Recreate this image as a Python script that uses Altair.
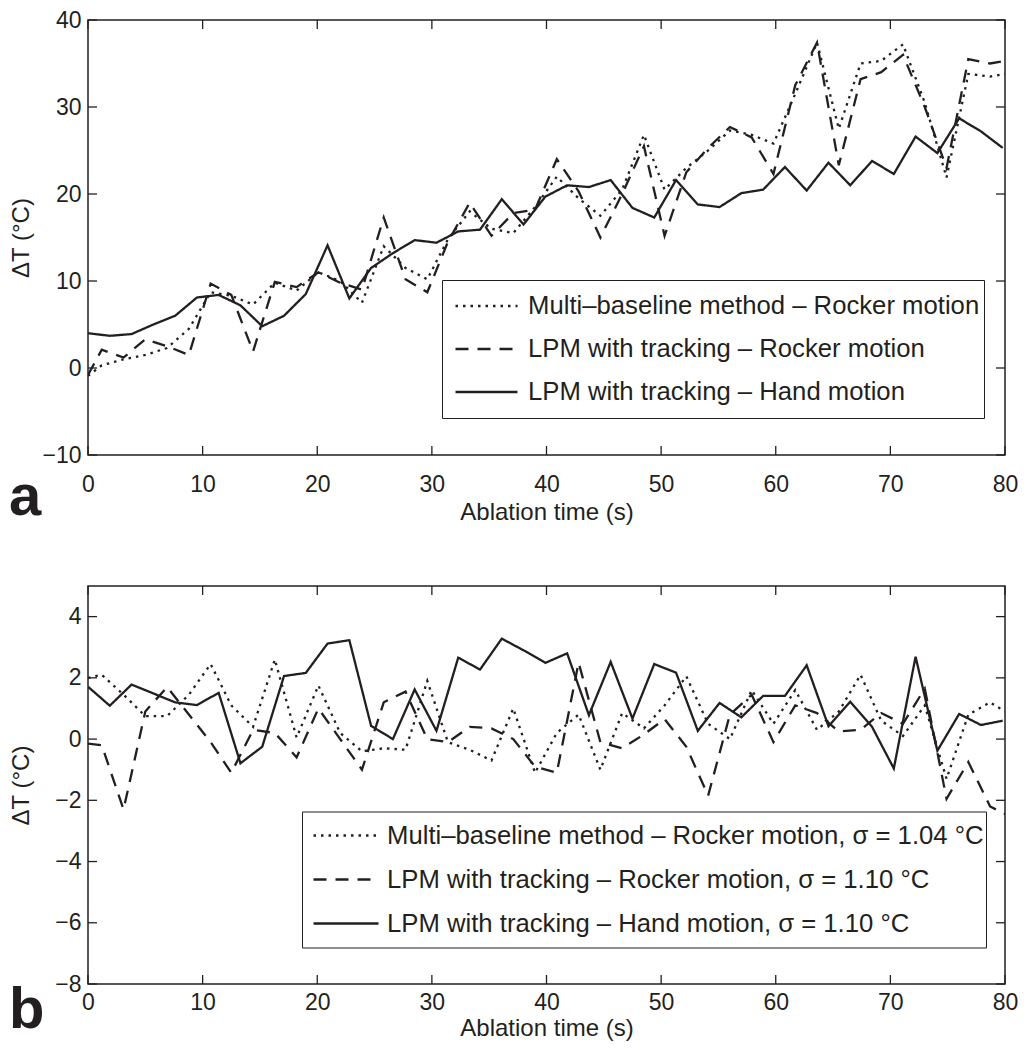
import altair as alt
import pandas as pd

FONT = "Liberation Sans"
INK = "#231f20"

x_ticks = [0, 10, 20, 30, 40, 50, 60, 70, 80]
ya_ticks = [-10, 0, 10, 20, 30, 40]
yb_ticks = [-8, -6, -4, -2, 0, 2, 4]

hand_t = [0, 1.9, 3.8, 5.7, 7.6, 9.5, 11.4, 13.3, 15.2, 17.1, 19.0, 20.9, 22.8, 24.7,
          26.6, 28.5, 30.4, 32.3, 34.2, 36.1, 38.0, 39.9, 41.8, 43.7, 45.6, 47.5, 49.4,
          51.3, 53.2, 55.1, 57.0, 58.9, 60.8, 62.7, 64.6, 66.5, 68.4, 70.3, 72.2, 74.1,
          76.0, 77.9, 79.8]
rocker_t = [0, 1.2, 3.1, 5.0, 6.9, 8.8, 10.7, 12.5, 14.4, 16.3, 18.2, 20.1, 22.0, 23.9,
            25.8, 27.7, 29.6, 31.4, 33.3, 35.2, 37.1, 39.0, 40.9, 42.8, 44.7, 46.6, 48.5,
            50.3, 52.2, 54.1, 56.0, 57.9, 59.8, 61.7, 63.6, 65.5, 67.4, 69.2, 71.1, 73.0,
            74.9, 76.8, 78.7, 80.0]

# panel a
a_multi = [-0.9, 0.3, 1.0, 1.5, 2.3, 4.5, 8.7, 8.3, 7.3, 9.8,
           8.9, 11.0, 10.0, 7.5, 14.0, 11.5, 10.2, 14.8, 18.0, 16.0,
           15.5, 18.5, 22.0, 19.5, 17.5, 20.5, 26.8, 20.5, 23.0, 25.0,
           27.3, 26.8, 25.8, 31.5, 37.4, 27.5, 35.0, 35.3, 37.2, 30.5,
           21.9, 33.8, 33.5, 33.8]
a_lpm_rocker = [-0.8, 2.1, 1.2, 3.3, 2.5, 1.5, 9.7, 8.4, 1.9, 9.9,
                9.3, 11.0, 9.8, 9.0, 17.3, 10.2, 8.7, 14.5, 19.0, 15.2,
                17.8, 18.2, 24.0, 20.3, 15.0, 20.0, 25.5, 15.2, 22.5, 25.3,
                27.7, 26.5, 22.3, 32.5, 37.4, 23.3, 33.2, 34.0, 36.0, 30.0,
                23.0, 35.5, 35.0, 35.3]
a_lpm_hand = [4.0, 3.7, 3.9, 5.0, 6.0, 8.1, 8.4, 7.2, 4.8, 6.0,
              8.5, 14.1, 8.0, 11.5, 13.2, 14.7, 14.4, 15.7, 15.9, 19.4,
              16.5, 19.7, 21.0, 20.8, 21.6, 18.4, 17.3, 21.6, 18.8, 18.5,
              20.1, 20.5, 23.1, 20.4, 23.6, 21.0, 23.8, 22.3, 26.6, 24.7,
              28.7, 27.2, 25.3]

# panel b
b_multi = [2.0, 2.1, 1.45, 0.75, 0.75, 1.45, 2.45, 1.1, 0.4, 2.6,
           0.05, 1.75, 0.2, -0.4, -0.3, -0.35, 1.9, -0.1, -0.35, -0.7,
           1.0, -1.1, 0.2, 0.8, -1.0, 0.85, 0.35, 1.1, 2.05, 0.5,
           0.0, 1.6, 0.5, 1.6, 0.3, 0.9, 2.1, 0.6, 0.1, 1.1,
           -1.3, 0.8, 1.2, 0.9]
b_lpm_rocker = [-0.15, -0.2, -2.3, 0.9, 1.7, 0.8, -0.1, -1.1, 0.3, 0.2,
                -0.6, 1.0, 0.0, -1.0, 1.2, 1.55, 0.0, -0.1, 0.4, 0.35,
                0.0, -0.9, -1.1, 2.5, -0.1, -0.3, 0.15, 0.65, -0.25, -1.85,
                0.8, 1.45, -0.1, 1.1, 0.85, 0.25, 0.3, 0.85, 0.5, 1.65,
                -1.95, -0.75, -2.2, -2.45]
b_lpm_hand = [1.71, 1.09, 1.78, 1.49, 1.20, 1.11, 1.51, -0.79, -0.25, 2.06,
              2.16, 3.12, 3.23, 0.43, 0.0, 1.62, 0.27, 2.66, 2.27, 3.28,
              2.90, 2.49, 2.80, 0.78, 2.52, 0.67, 2.45, 2.17, 0.27, 1.18,
              0.71, 1.41, 1.41, 2.41, 0.42, 1.22, 0.40, -0.96, 2.69, -0.38,
              0.82, 0.46, 0.60]

labels_a = ["Multi–baseline method – Rocker motion",
            "LPM with tracking – Rocker motion",
            "LPM with tracking – Hand motion"]
labels_b = ["Multi–baseline method – Rocker motion, σ = 1.04 °C",
            "LPM with tracking – Rocker motion, σ = 1.10 °C",
            "LPM with tracking – Hand motion, σ = 1.10 °C"]

DASHES = [[2.5, 5], [13, 9], [1, 0]]
W = 917
TICK = 9
YEXT = 48
YTP = 7
TITLE_FS = 24


def panel(labels, multi, rocker, hand, ydom, yticks, H, xlabpad, xtitlepad,
          leg, letter, letter_dy):
    rows = []
    for lab, ts, vs in [(labels[0], rocker_t, multi), (labels[1], rocker_t, rocker),
                        (labels[2], hand_t, hand)]:
        for t, v in zip(ts, vs):
            rows.append({"t": t, "v": v, "series": lab})
    df = pd.DataFrame(rows)
    xs = alt.Scale(domain=[0, 80], nice=False, zero=False)
    ys = alt.Scale(domain=ydom, nice=False, zero=False)
    xax = alt.Axis(values=x_ticks, title="Ablation time (s)", format="d",
                   labelPadding=xlabpad, titlePadding=xtitlepad, labelFlush=False)
    yax = alt.Axis(values=yticks, title="ΔT (°C)", format="d",
                   labelPadding=7, titlePadding=YTP, minExtent=YEXT,
                   maxExtent=YEXT, labelFlush=False)

    lines = alt.Chart(df).mark_line(strokeWidth=2.3, color=INK, clip=True).encode(
        x=alt.X("t:Q", scale=xs, axis=xax),
        y=alt.Y("v:Q", scale=ys, axis=yax),
        strokeDash=alt.StrokeDash(
            "series:N",
            scale=alt.Scale(domain=labels, range=DASHES),
            legend=alt.Legend(
                title=None, orient="none", legendX=leg["x"], legendY=leg["y"],
                padding=leg["pad"], clipHeight=leg["row"], rowPadding=0,
                symbolType="stroke", symbolSize=leg["sym"] ** 2,
                symbolStrokeWidth=2.3, symbolStrokeColor=INK,
                symbolOffset=leg["so"], labelOffset=leg["lo"],
                strokeColor=INK, fillColor="white", labelFont=FONT,
                labelFontSize=25.7, labelColor=INK, labelLimit=1000),
        ),
    )
    xt = pd.DataFrame({"t": x_ticks})
    yt = pd.DataFrame({"v": yticks})
    top = alt.Chart(xt).mark_rule(color=INK, strokeWidth=1.3).encode(
        x=alt.X("t:Q", scale=xs, axis=xax), y=alt.value(0), y2=alt.value(TICK))
    bottom = alt.Chart(xt).mark_rule(color=INK, strokeWidth=1.3).encode(
        x=alt.X("t:Q", scale=xs, axis=xax), y=alt.value(H), y2=alt.value(H - TICK))
    left = alt.Chart(yt).mark_rule(color=INK, strokeWidth=1.3).encode(
        y=alt.Y("v:Q", scale=ys, axis=yax), x=alt.value(0), x2=alt.value(TICK))
    right = alt.Chart(yt).mark_rule(color=INK, strokeWidth=1.3).encode(
        y=alt.Y("v:Q", scale=ys, axis=yax), x=alt.value(W), x2=alt.value(W - TICK))
    let = alt.Chart(pd.DataFrame({"s": [letter]})).mark_text(
        font=FONT, fontSize=58, fontWeight="bold", align="left",
        baseline="alphabetic", color=INK).encode(
        text="s:N", x=alt.value(-(YEXT + YTP + TITLE_FS)), y=alt.value(H + letter_dy))
    return alt.layer(lines, top, bottom, left, right, let).properties(width=W, height=H)


pa = panel(labels_a, a_multi, a_lpm_rocker, a_lpm_hand, [-10, 40], ya_ticks, 435,
           18, 4, {"x": 354, "y": 260, "pad": 4.5, "row": 43, "sym": 62, "so": 7.5, "lo": 9},
           "a", 59.5)
pb = panel(labels_b, b_multi, b_lpm_rocker, b_lpm_hand, [-8, 5], yb_ticks, 398,
           7, 2, {"x": 214, "y": 225.5, "pad": 2, "row": 44, "sym": 65, "so": 8, "lo": 7},
           "b", 44)

chart = alt.vconcat(pa, pb, spacing=56).resolve_scale(
    strokeDash="independent"
).resolve_legend(strokeDash="independent").properties(
    padding={"left": 0, "top": 0, "right": 0, "bottom": 0}
).configure_view(stroke=INK, strokeWidth=1.5).configure_axis(
    labelFont=FONT, titleFont=FONT, labelFontSize=23, titleFontSize=TITLE_FS,
    titleFontWeight="normal", labelColor=INK, titleColor=INK,
    grid=False, ticks=False, tickSize=0, domain=False)

chart.save("out.html", embed_options={"renderer": "svg", "actions": False})
